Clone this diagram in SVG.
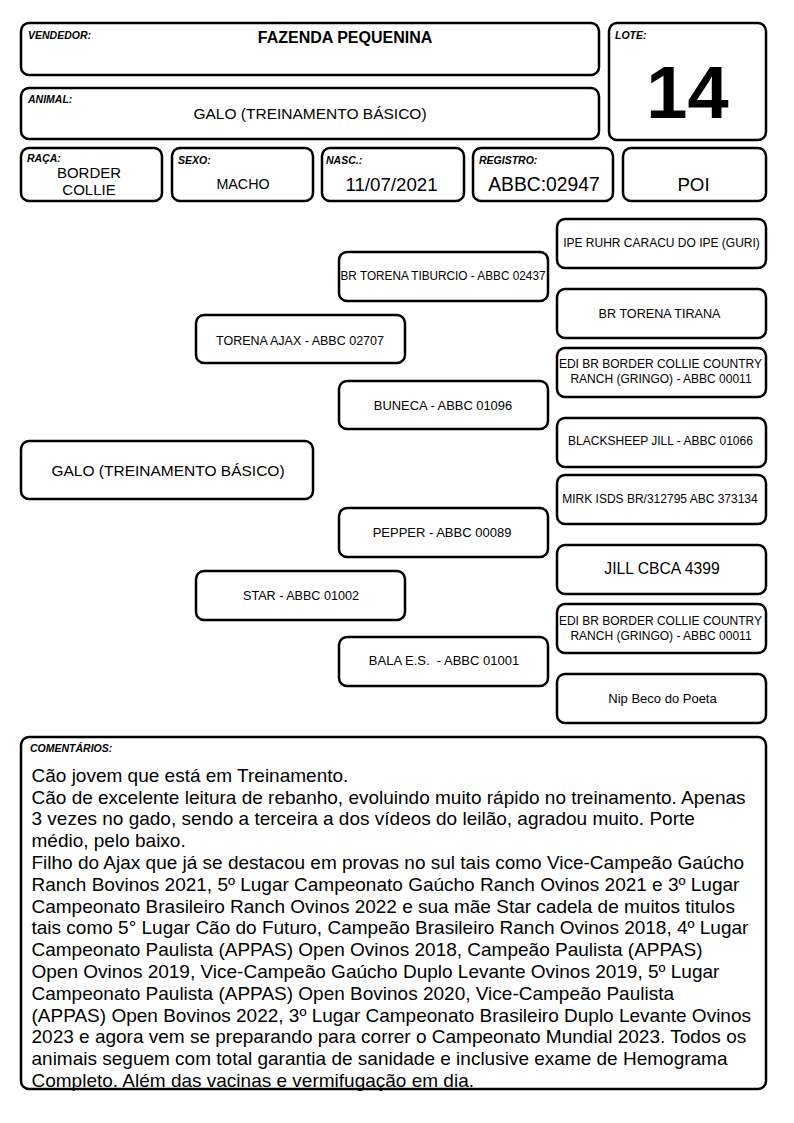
<svg xmlns="http://www.w3.org/2000/svg" width="794" height="1123" viewBox="0 0 794 1123">
<style>
.box{fill:#fff;stroke:#000;stroke-width:2.5}
.lbl{font-family:"Liberation Sans",Arial,sans-serif;font-weight:bold;font-style:italic;font-size:10.5px;fill:#000}
.t{font-family:"Liberation Sans",Arial,sans-serif;fill:#000;text-anchor:middle}
.c{font-family:"Liberation Sans",Arial,sans-serif;fill:#000;font-size:19px}
</style>
<rect width="794" height="1123" fill="#fff"/>
<g id="vendedor">
<rect class="box" x="21" y="23" width="578" height="52" rx="8"/>
<text class="lbl" x="28" y="39">VENDEDOR:</text>
<text class="t" x="345" y="43" font-size="16" font-weight="bold">FAZENDA PEQUENINA</text>
</g>
<g id="animal">
<rect class="box" x="21" y="88" width="578" height="51" rx="8"/>
<text class="lbl" x="28" y="103">ANIMAL:</text>
<text class="t" x="310" y="119" font-size="15.5">GALO (TREINAMENTO BÁSICO)</text>
</g>
<g id="lote">
<rect class="box" x="609" y="23" width="157" height="117" rx="8"/>
<text class="lbl" x="615" y="39">LOTE:</text>
<text class="t" x="687.5" y="118" font-size="74" font-weight="bold">14</text>
</g>
<g id="raca">
<rect class="box" x="21" y="148" width="141" height="53" rx="8"/>
<text class="lbl" x="27" y="162">RAÇA:</text>
<text class="t" x="89" y="178" font-size="15">BORDER</text>
<text class="t" x="89" y="194.5" font-size="15">COLLIE</text>
</g>
<g id="sexo">
<rect class="box" x="172" y="148" width="141" height="53" rx="8"/>
<text class="lbl" x="178" y="164">SEXO:</text>
<text class="t" x="243" y="189" font-size="14.3">MACHO</text>
</g>
<g id="nasc">
<rect class="box" x="322" y="148" width="142" height="53" rx="8"/>
<text class="lbl" x="326" y="164">NASC.:</text>
<text class="t" x="391.5" y="191" font-size="18.7">11/07/2021</text>
</g>
<g id="registro">
<rect class="box" x="473" y="148" width="140" height="53" rx="8"/>
<text class="lbl" x="479" y="164">REGISTRO:</text>
<text class="t" x="544" y="191" font-size="19.3">ABBC:02947</text>
</g>
<g id="poi">
<rect class="box" x="623" y="148" width="143" height="53" rx="8"/>
<text class="t" x="693.5" y="191" font-size="18.7">POI</text>
</g>
<g id="galo">
<rect class="box" x="21" y="441" width="292" height="58" rx="8"/>
<text class="t" x="168" y="476" font-size="15.5">GALO (TREINAMENTO BÁSICO)</text>
</g>
<g id="ajax">
<rect class="box" x="196" y="315" width="209" height="48" rx="8"/>
<text class="t" x="300" y="345" font-size="12.5">TORENA AJAX - ABBC 02707</text>
</g>
<g id="star">
<rect class="box" x="196" y="571" width="209" height="49" rx="8"/>
<text class="t" x="301" y="599.5" font-size="12.6">STAR - ABBC 01002</text>
</g>
<g id="tiburcio">
<rect class="box" x="339" y="252" width="209" height="49" rx="8"/>
<text class="t" x="443" y="280" font-size="12" textLength="205" lengthAdjust="spacingAndGlyphs">BR TORENA TIBURCIO - ABBC 02437</text>
</g>
<g id="buneca">
<rect class="box" x="339" y="381" width="209" height="48" rx="8"/>
<text class="t" x="443" y="409.5" font-size="12.9">BUNECA - ABBC 01096</text>
</g>
<g id="pepper">
<rect class="box" x="339" y="508" width="209" height="49" rx="8"/>
<text class="t" x="442" y="537" font-size="13">PEPPER - ABBC 00089</text>
</g>
<g id="bala">
<rect class="box" x="339" y="637" width="209" height="49" rx="8"/>
<text class="t" x="444" y="665" font-size="13" xml:space="preserve">BALA E.S.  - ABBC 01001</text>
</g>
<g id="ipe">
<rect class="box" x="557" y="219" width="209" height="49" rx="8"/>
<text class="t" x="661.5" y="246.5" font-size="12">IPE RUHR CARACU DO IPE (GURI)</text>
</g>
<g id="tirana">
<rect class="box" x="557" y="289" width="209" height="49" rx="8"/>
<text class="t" x="659.5" y="317.5" font-size="12.6">BR TORENA TIRANA</text>
</g>
<g id="edi1">
<rect class="box" x="557" y="348" width="209" height="49" rx="8"/>
<text class="t" x="660.5" y="368" font-size="12">EDI BR BORDER COLLIE COUNTRY</text>
<text class="t" x="661" y="383" font-size="12">RANCH (GRINGO) - ABBC 00011</text>
</g>
<g id="blacksheep">
<rect class="box" x="557" y="418" width="209" height="49" rx="8"/>
<text class="t" x="660.5" y="445" font-size="12">BLACKSHEEP JILL - ABBC 01066</text>
</g>
<g id="mirk">
<rect class="box" x="557" y="475" width="209" height="49" rx="8"/>
<text class="t" x="660" y="503" font-size="12">MIRK ISDS BR/312795 ABC 373134</text>
</g>
<g id="jill">
<rect class="box" x="557" y="545" width="209" height="49" rx="8"/>
<text class="t" x="662" y="574" font-size="15.7">JILL CBCA 4399</text>
</g>
<g id="edi2">
<rect class="box" x="557" y="604" width="209" height="49" rx="8"/>
<text class="t" x="660.5" y="625" font-size="12">EDI BR BORDER COLLIE COUNTRY</text>
<text class="t" x="661" y="639.5" font-size="12">RANCH (GRINGO) - ABBC 00011</text>
</g>
<g id="nip">
<rect class="box" x="557" y="674" width="209" height="49" rx="8"/>
<text class="t" x="662.5" y="703" font-size="13">Nip Beco do Poeta</text>
</g>
<g id="connectors"></g>
<g id="comentarios">
<rect class="box" x="21" y="737" width="745" height="352" rx="8"/>
<text class="lbl" x="30" y="752" font-size="10">COMENTÁRIOS:</text>
<text class="c" x="31.5" y="781.7">Cão jovem que está em Treinamento.</text>
<text class="c" x="31.5" y="803.5">Cão de excelente leitura de rebanho, evoluindo muito rápido no treinamento. Apenas</text>
<text class="c" x="31.5" y="825.3">3 vezes no gado, sendo a terceira a dos vídeos do leilão, agradou muito. Porte</text>
<text class="c" x="31.5" y="847.1">médio, pelo baixo.</text>
<text class="c" x="31.5" y="868.9">Filho do Ajax que já se destacou em provas no sul tais como Vice-Campeão Gaúcho</text>
<text class="c" x="31.5" y="890.7">Ranch Bovinos 2021, 5º Lugar Campeonato Gaúcho Ranch Ovinos 2021 e 3º Lugar</text>
<text class="c" x="31.5" y="912.5">Campeonato Brasileiro Ranch Ovinos 2022 e sua mãe Star cadela de muitos titulos</text>
<text class="c" x="31.5" y="934.3">tais como 5° Lugar Cão do Futuro, Campeão Brasileiro Ranch Ovinos 2018, 4º Lugar</text>
<text class="c" x="31.5" y="956.1">Campeonato Paulista (APPAS) Open Ovinos 2018, Campeão Paulista (APPAS)</text>
<text class="c" x="31.5" y="977.9">Open Ovinos 2019, Vice-Campeão Gaúcho Duplo Levante Ovinos 2019, 5º Lugar</text>
<text class="c" x="31.5" y="999.7">Campeonato Paulista (APPAS) Open Bovinos 2020, Vice-Campeão Paulista</text>
<text class="c" x="31.5" y="1021.5">(APPAS) Open Bovinos 2022, 3º Lugar Campeonato Brasileiro Duplo Levante Ovinos</text>
<text class="c" x="31.5" y="1043.3">2023 e agora vem se preparando para correr o Campeonato Mundial 2023. Todos os</text>
<text class="c" x="31.5" y="1065.1">animais seguem com total garantia de sanidade e inclusive exame de Hemograma</text>
<text class="c" x="31.5" y="1086.9">Completo. Além das vacinas e vermifugação em dia.</text>
</g>
</svg>
